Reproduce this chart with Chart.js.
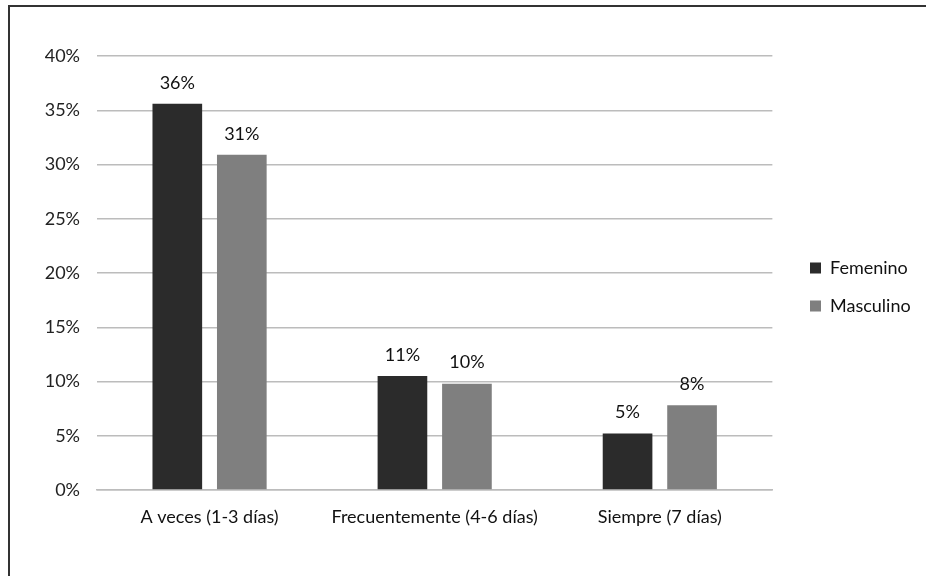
<!DOCTYPE html>
<html>
<head>
<meta charset="utf-8">
<script src="https://cdn.jsdelivr.net/npm/chart.js@4.4.0/dist/chart.umd.min.js"></script>
<style>
    html, body { margin: 0; padding: 0; background: #fff; }
    #wrap { position: relative; width: 926px; height: 576px; overflow: hidden; }
    #marco { position: absolute; left: 8px; top: 5px; right: -4px; bottom: -4px; border-left: 2px solid #333; border-top: 2px solid #333; }
    #grafico { position: absolute; left: 0; top: 0; }
</style>
</head>
<body>
<div id="wrap">
    <div id="marco"></div>
    <canvas id="grafico" width="926" height="576"></canvas>
</div>
<script>
// Datos
const categorias = ['A veces (1-3 días)', 'Frecuentemente (4-6 días)', 'Siempre (7 días)'];
const femenino = [35.6, 10.5, 5.2];
const masculino = [30.9, 9.8, 7.8];
const ticksY = [0, 5, 10, 15, 20, 25, 30, 35, 40];

const fuente = 'Lato';

// Etiquetas de valor encima de cada barra
const etiquetasBarras = {
    id: 'etiquetasBarras',
    afterDatasetsDraw(chart) {
        const ctx = chart.ctx;
        ctx.save();
        ctx.font = '18px ' + fuente;
        ctx.fillStyle = '#111';
        ctx.textAlign = 'center';
        ctx.textBaseline = 'middle';
        chart.data.datasets.forEach((ds, i) => {
            chart.getDatasetMeta(i).data.forEach((bar, j) => {
                ctx.fillText(Math.round(ds.data[j]) + '%', bar.x, bar.y - 21);
            });
        });
        ctx.restore();
    }
};

// Mueve la leyenda a su sitio (a la derecha, algo más arriba del centro)
const ajusteLeyenda = {
    id: 'ajusteLeyenda',
    afterLayout(chart) {
        const lg = chart.legend;
        const dx = 810 - (lg.left + 20);
        const dy = 287 - (lg.top + lg.bottom) / 2;
        lg.left += dx; lg.right += dx;
        lg.top += dy; lg.bottom += dy;
    }
};

new Chart(document.getElementById('grafico'), {
    type: 'bar',
    data: {
        labels: categorias,
        datasets: [{
            label: 'Femenino',
            data: femenino,
            backgroundColor: '#2b2b2b',
            categoryPercentage: 0.573,
            barPercentage: 0.77
        }, {
            label: 'Masculino',
            data: masculino,
            backgroundColor: '#7f7f7f',
            categoryPercentage: 0.573,
            barPercentage: 0.77
        }]
    },
    options: {
        responsive: false,
        animation: false,
        layout: {
            padding: { top: 56, left: 0, right: 23, bottom: 0 }
        },
        plugins: {
            legend: {
                position: 'right',
                labels: {
                    boxWidth: 11,
                    boxHeight: 11,
                    padding: 20,
                    color: '#111',
                    font: { family: fuente, size: 18 }
                }
            },
            tooltip: { enabled: false }
        },
        scales: {
            y: {
                min: 0,
                max: 40,
                afterFit(scale) { scale.width = 97; },
                afterBuildTicks(scale) { scale.ticks = ticksY.map(v => ({ value: v })); },
                ticks: {
                    padding: 17,
                    color: '#222',
                    font: { family: fuente, size: 18 },
                    callback: v => v + '%'
                },
                grid: {
                    color: '#bcbcbc',
                    lineWidth: 1.5,
                    drawTicks: false
                },
                border: { display: false }
            },
            x: {
                afterFit(scale) { scale.height = 86; },
                ticks: {
                    padding: 8,
                    color: '#111',
                    font: { family: fuente, size: 18 }
                },
                grid: { display: false },
                border: { color: '#bcbcbc', width: 1.5 }
            }
        }
    },
    plugins: [etiquetasBarras, ajusteLeyenda]
});
</script>
</body>
</html>
